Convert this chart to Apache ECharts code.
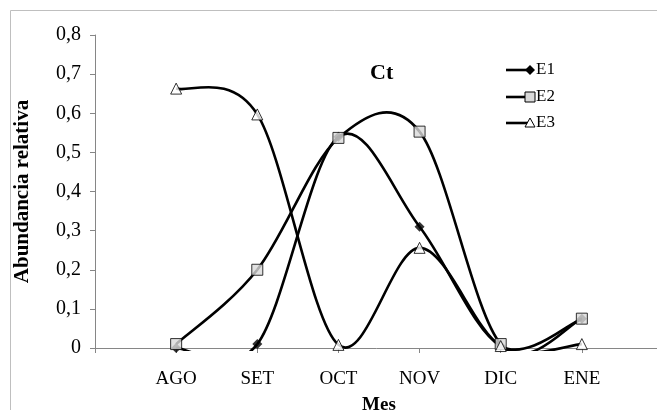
<!DOCTYPE html>
<html>
<head>
<meta charset="utf-8">
<script src="https://cdn.jsdelivr.net/npm/echarts@6/dist/echarts.min.js"></script>
<style>
  html, body { margin: 0; padding: 0; background: #fff; }
  #chart { width: 657px; height: 410px; }
</style>
</head>
<body>
<div id="chart"></div>
<script>
// Month categories, with an empty slot at each end of the axis
const months = ['', 'AGO', 'SET', 'OCT', 'NOV', 'DIC', 'ENE', ''];
const yTicks = [0, 0.1, 0.2, 0.3, 0.4, 0.5, 0.6, 0.7, 0.8];

// Relative abundance per station
const e1 = [null, 0, 0.01, 0.54, 0.31, 0.005, 0.075, null];
const e2 = [null, 0.01, 0.2, 0.537, 0.553, 0.01, 0.075, null];
const e3 = [null, 0.663, 0.597, 0.008, 0.256, 0.005, 0.01, null];

const FONT = '"Liberation Serif", "Times New Roman", serif';

const chart = echarts.init(document.getElementById('chart'), null, { renderer: 'canvas' });

// Cardinal (Catmull-Rom) spline segment from point i to i+1, in the spreadsheet style
function splineSeries(name, values) {
  return {
    name: name,
    type: 'custom',
    clip: false,
    z: 2,
    data: values.map((v, k) => [k, v == null ? '-' : v]),
    encode: { x: 0, y: 1 },
    renderItem: function (params, api) {
      const i = params.dataIndex;
      if (values[i] == null || values[i + 1] == null) return { type: 'group', children: [] };
      const pt = k => api.coord([k, values[k]]);
      const p1 = pt(i), p2 = pt(i + 1);
      const p0 = values[i - 1] != null ? pt(i - 1) : p1;
      const p3 = values[i + 2] != null ? pt(i + 2) : p2;
      const cs = params.coordSys;
      return {
        type: 'bezierCurve',
        shape: {
          x1: p1[0], y1: p1[1], x2: p2[0], y2: p2[1],
          cpx1: p1[0] + (p2[0] - p0[0]) / 6, cpy1: p1[1] + (p2[1] - p0[1]) / 6,
          cpx2: p2[0] - (p3[0] - p1[0]) / 6, cpy2: p2[1] - (p3[1] - p1[1]) / 6
        },
        style: { stroke: '#000', lineWidth: 2.6, fill: null },
        clipPath: { type: 'rect', shape: { x: cs.x, y: cs.y - 2, width: cs.width, height: cs.height + 5 } }
      };
    }
  };
}

function markerSeries(name, values, symbol, size, itemStyle) {
  return {
    name: name, type: 'scatter', data: values, symbol: symbol, symbolSize: size,
    itemStyle: itemStyle, z: 5, clip: false
  };
}

function legendItem(y, label, symbol) {
  return {
    type: 'group',
    children: [
      { type: 'line', shape: { x1: 506, y1: y, x2: 530, y2: y }, style: { stroke: '#000', lineWidth: 2.6 } },
      symbol,
      { type: 'text', x: 536, y: y, style: { text: label, font: '17px ' + FONT, fill: '#000', verticalAlign: 'middle' } }
    ]
  };
}

chart.setOption({
  animation: false,
  backgroundColor: '#fff',
  title: {
    text: 'Ct',
    left: 365, top: 57,
    textStyle: { fontFamily: FONT, fontWeight: 'bold', fontSize: 22, color: '#000' }
  },
  grid: { left: 95, top: 35, width: 568, height: 313, containLabel: false, outerBoundsMode: 'none' },
  xAxis: {
    type: 'category',
    data: months,
    boundaryGap: false,
    name: 'Mes',
    nameLocation: 'middle',
    nameGap: 48,
    nameTextStyle: { fontFamily: FONT, fontWeight: 'bold', fontSize: 19, color: '#000' },
    axisLine: { lineStyle: { color: '#868686', width: 1 } },
    axisTick: { show: true, length: 5, lineStyle: { color: '#868686' } },
    axisLabel: { fontFamily: FONT, fontSize: 19, color: '#000', margin: 22 },
    splitLine: { show: false }
  },
  yAxis: {
    type: 'value',
    min: yTicks[0],
    max: yTicks[yTicks.length - 1],
    interval: 0.1,
    name: 'Abundancia relativa',
    nameLocation: 'middle',
    nameGap: 62,
    nameTextStyle: { fontFamily: FONT, fontWeight: 'bold', fontSize: 21, color: '#000' },
    axisLine: { show: true, lineStyle: { color: '#868686', width: 1 } },
    axisTick: { show: true, length: 5, lineStyle: { color: '#868686' } },
    axisLabel: {
      fontFamily: FONT, fontSize: 20, color: '#000', margin: 14,
      formatter: v => (v === 0 ? '0' : v.toFixed(1).replace('.', ','))
    },
    splitLine: { show: false }
  },
  series: [
    splineSeries('E1', e1),
    splineSeries('E2', e2),
    splineSeries('E3', e3),
    markerSeries('E1', e1, 'diamond', 10, { color: '#000' }),
    markerSeries('E2', e2, 'rect', 11, { color: '#d9d9d9', borderColor: '#000', borderWidth: 1 }),
    markerSeries('E3', e3, 'triangle', 11, { color: '#fff', borderColor: '#000', borderWidth: 1 })
  ],
  graphic: [
    { type: 'rect', shape: { x: 10.5, y: 10.5, width: 700, height: 460 }, style: { fill: 'none', stroke: '#bfbfbf', lineWidth: 1 }, z: -10 },
    legendItem(70, 'E1', { type: 'polygon', shape: { points: [[530, 65], [535, 70], [530, 75], [525, 70]] }, style: { fill: '#000' } }),
    legendItem(97, 'E2', { type: 'rect', shape: { x: 525, y: 92, width: 10, height: 10 }, style: { fill: '#d9d9d9', stroke: '#000', lineWidth: 1 } }),
    legendItem(123, 'E3', { type: 'polygon', shape: { points: [[530, 118], [535, 127], [525, 127]] }, style: { fill: '#fff', stroke: '#000', lineWidth: 1 } })
  ]
});
</script>
</body>
</html>
